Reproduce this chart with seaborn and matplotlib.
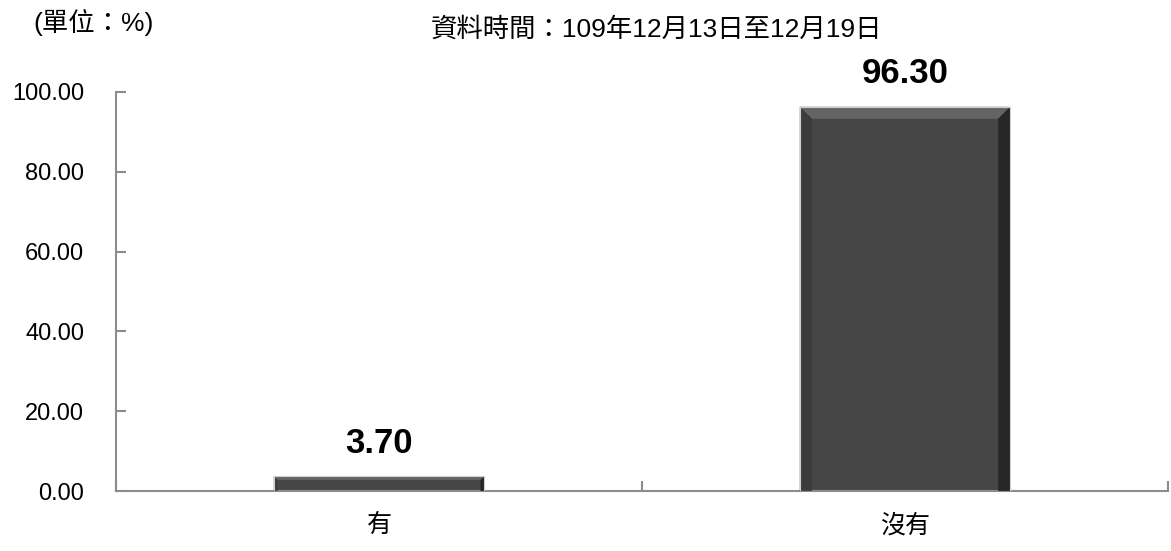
import matplotlib
matplotlib.use("Agg")
import matplotlib.pyplot as plt
from matplotlib.patches import Polygon
import pandas as pd
import seaborn as sns

# data
categories = ["有", "沒有"]
values = [3.70, 96.30]
y_ticks = [0, 20, 40, 60, 80, 100]
unit_label = "(單位：%)"
period_label = "資料時間：109年12月13日至12月19日"

df = pd.DataFrame({"answer": categories, "pct": values})

sns.set_style("white")
plt.rcParams["font.family"] = ["Liberation Sans", "Noto Sans CJK TC"]
plt.rcParams["ytick.direction"] = "in"
plt.rcParams["xtick.direction"] = "in"
plt.rcParams["text.color"] = "black"
plt.rcParams["xtick.labelcolor"] = "black"
plt.rcParams["ytick.labelcolor"] = "black"

fig = plt.figure(figsize=(11.71, 5.51), dpi=100)
ax = fig.add_axes([116 / 1171, 60 / 551, 1052 / 1171, 399 / 551])

sns.barplot(data=df, x="answer", y="pct", color="#464646", saturation=1,
            width=0.40, ax=ax)

ax.set_xlim(-0.5, 1.5)
ax.set_ylim(0, 100)
ax.set_yticks(y_ticks)
ax.set_yticklabels([f"{v:.2f}" for v in y_ticks], fontsize=17)
ax.set_xlabel("")
ax.set_ylabel("")
ax.tick_params(axis="x", which="major", length=0, pad=16, labelsize=18,
               labelcolor="black")
ax.set_xticks([-0.5, 0.5, 1.5], minor=True)
ax.tick_params(axis="x", which="minor", bottom=True, direction="in", length=7,
               color="#8c8c8c", width=1.5)
ax.tick_params(axis="y", which="major", left=True, direction="in", length=7,
               color="#8c8c8c", width=1.5, pad=23, labelcolor="black")

for side in ["top", "right"]:
    ax.spines[side].set_visible(False)
for side in ["left", "bottom"]:
    ax.spines[side].set_color("#8c8c8c")
    ax.spines[side].set_linewidth(1.5)

# bevel shading on bars
fig.canvas.draw()
inv = ax.transData.inverted()
for p in ax.patches:
    x0, y0 = p.get_x(), p.get_y()
    x1, y1 = x0 + p.get_width(), y0 + p.get_height()
    (px0, py0) = ax.transData.transform((x0, y0))
    (px1, py1) = ax.transData.transform((x1, y1))
    b = min(12, (py1 - py0) / 4)
    def d(px, py):
        return inv.transform((px, py))
    outer = [d(px0, py0), d(px0, py1), d(px1, py1), d(px1, py0)]
    inner = [d(px0 + b, py0), d(px0 + b, py1 - b), d(px1 - b, py1 - b), d(px1 - b, py0)]
    # top face (lighter)
    ax.add_patch(Polygon([outer[1], outer[2], inner[2], inner[1]], closed=True,
                         facecolor="#646464", edgecolor="none", zorder=3))
    # left face
    ax.add_patch(Polygon([outer[0], outer[1], inner[1], inner[0]], closed=True,
                         facecolor="#3c3c3c", edgecolor="none", zorder=3))
    # right face (darker)
    ax.add_patch(Polygon([outer[3], outer[2], inner[2], inner[3]], closed=True,
                         facecolor="#262626", edgecolor="none", zorder=3))
    ax.add_patch(Polygon(outer, closed=True, facecolor="none",
                         edgecolor="#d0d0d0", linewidth=0.8, zorder=4))

for p, v in zip(ax.patches, values):
    ax.annotate(f"{v:.2f}", (p.get_x() + p.get_width() / 2, p.get_height()),
                xytext=(0, 12), textcoords="offset points", ha="center",
                va="bottom", fontsize=25, fontweight="bold", color="black")

fig.text(33 / 1171, 1 - 22 / 551, unit_label, fontsize=19, va="center", ha="left")
fig.text(657 / 1171, 1 - 30 / 551, period_label, fontsize=19, va="center", ha="center")

fig.savefig("out.png", dpi=100)
